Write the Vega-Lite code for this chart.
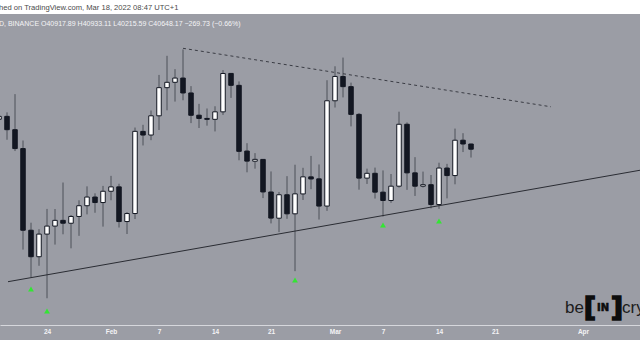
{
  "$schema": "https://vega.github.io/schema/vega-lite/v6.json",
  "width": 640,
  "height": 326,
  "autosize": {"type": "none"},
  "padding": {"top": 14, "bottom": 20, "left": 0, "right": 0},
  "background": "#ffffff",
  "title": {
    "text": "hed on TradingView.com, Mar 18, 2022 08:47 UTC+1",
    "subtitle": "D, BINANCE  O40917.89  H40933.11  L40215.59  C40648.17  −269.73 (−0.66%)",
    "anchor": "start",
    "frame": "group",
    "orient": "top",
    "offset": -13,
    "dx": -1,
    "font": "Liberation Sans",
    "fontSize": 7.6,
    "fontWeight": "normal",
    "color": "#4a4a4a",
    "subtitleFont": "Liberation Sans",
    "subtitleFontSize": 7,
    "subtitleColor": "#f4f4f6",
    "subtitlePadding": 8.5
  },
  "datasets": {
    "candles": [
      {"date": "2022-01-18", "open": 42201.13, "high": 42691.00, "low": 41250.00, "close": 42352.12},
      {"date": "2022-01-19", "open": 42352.12, "high": 42559.13, "low": 41138.56, "close": 41660.01},
      {"date": "2022-01-20", "open": 41660.00, "high": 43505.00, "low": 40553.31, "close": 40680.91},
      {"date": "2022-01-21", "open": 40680.92, "high": 41100.00, "low": 35440.45, "close": 36445.31},
      {"date": "2022-01-22", "open": 36445.31, "high": 36835.22, "low": 34008.00, "close": 35071.42},
      {"date": "2022-01-23", "open": 35071.42, "high": 36499.00, "low": 34601.01, "close": 36244.55},
      {"date": "2022-01-24", "open": 36244.55, "high": 37550.00, "low": 32917.17, "close": 36660.35},
      {"date": "2022-01-25", "open": 36660.35, "high": 37545.14, "low": 35701.00, "close": 36958.32},
      {"date": "2022-01-26", "open": 36958.32, "high": 38919.98, "low": 36234.63, "close": 36809.34},
      {"date": "2022-01-27", "open": 36807.24, "high": 37234.47, "low": 35507.01, "close": 37160.10},
      {"date": "2022-01-28", "open": 37160.11, "high": 38000.00, "low": 36155.01, "close": 37716.56},
      {"date": "2022-01-29", "open": 37716.57, "high": 38720.74, "low": 37268.44, "close": 38166.84},
      {"date": "2022-01-30", "open": 38166.83, "high": 38359.26, "low": 37351.63, "close": 37881.76},
      {"date": "2022-01-31", "open": 37881.75, "high": 38744.00, "low": 36632.61, "close": 38466.90},
      {"date": "2022-02-01", "open": 38466.90, "high": 39265.20, "low": 38000.00, "close": 38694.59},
      {"date": "2022-02-02", "open": 38694.59, "high": 38855.92, "low": 36586.95, "close": 36896.36},
      {"date": "2022-02-03", "open": 36896.37, "high": 37387.00, "low": 36250.00, "close": 37311.61},
      {"date": "2022-02-04", "open": 37311.98, "high": 41772.33, "low": 37026.73, "close": 41574.25},
      {"date": "2022-02-05", "open": 41571.70, "high": 41913.69, "low": 40843.01, "close": 41382.59},
      {"date": "2022-02-06", "open": 41382.60, "high": 42656.00, "low": 41116.56, "close": 42380.87},
      {"date": "2022-02-07", "open": 42380.87, "high": 44500.50, "low": 41645.85, "close": 43839.99},
      {"date": "2022-02-08", "open": 43839.99, "high": 45492.00, "low": 42666.00, "close": 44118.44},
      {"date": "2022-02-09", "open": 44118.45, "high": 44799.00, "low": 43117.92, "close": 44338.80},
      {"date": "2022-02-10", "open": 44338.79, "high": 45821.00, "low": 43187.20, "close": 43565.11},
      {"date": "2022-02-11", "open": 43565.10, "high": 43920.00, "low": 42002.00, "close": 42407.87},
      {"date": "2022-02-12", "open": 42412.24, "high": 43000.00, "low": 41748.42, "close": 42244.47},
      {"date": "2022-02-13", "open": 42244.46, "high": 42760.00, "low": 41870.00, "close": 42197.52},
      {"date": "2022-02-14", "open": 42197.51, "high": 42876.15, "low": 41570.00, "close": 42586.64},
      {"date": "2022-02-15", "open": 42586.63, "high": 44751.40, "low": 42427.03, "close": 44575.20},
      {"date": "2022-02-16", "open": 44578.28, "high": 44583.39, "low": 43310.00, "close": 43961.85},
      {"date": "2022-02-17", "open": 43960.00, "high": 44164.71, "low": 40073.21, "close": 40538.01},
      {"date": "2022-02-18", "open": 40552.13, "high": 40959.88, "low": 39450.00, "close": 40030.24},
      {"date": "2022-02-19", "open": 40026.02, "high": 40444.32, "low": 39639.03, "close": 40122.16},
      {"date": "2022-02-20", "open": 40118.88, "high": 40119.90, "low": 38112.81, "close": 38431.37},
      {"date": "2022-02-21", "open": 38429.00, "high": 39494.35, "low": 36800.00, "close": 37075.28},
      {"date": "2022-02-22", "open": 37068.77, "high": 38430.00, "low": 36350.00, "close": 38286.01},
      {"date": "2022-02-23", "open": 38285.28, "high": 39249.93, "low": 37036.79, "close": 37296.57},
      {"date": "2022-02-24", "open": 37296.56, "high": 39843.00, "low": 34322.28, "close": 38332.61},
      {"date": "2022-02-25", "open": 38328.68, "high": 39683.53, "low": 38014.37, "close": 39214.22},
      {"date": "2022-02-26", "open": 39213.08, "high": 40300.00, "low": 38574.43, "close": 39105.15},
      {"date": "2022-02-27", "open": 39110.63, "high": 39855.70, "low": 37000.00, "close": 37699.07},
      {"date": "2022-02-28", "open": 37699.08, "high": 44225.84, "low": 37450.17, "close": 43160.00},
      {"date": "2022-03-01", "open": 43160.00, "high": 44949.00, "low": 42809.98, "close": 44421.20},
      {"date": "2022-03-02", "open": 44421.20, "high": 45400.00, "low": 43334.09, "close": 43892.98},
      {"date": "2022-03-03", "open": 43892.99, "high": 44101.12, "low": 41832.28, "close": 42454.00},
      {"date": "2022-03-04", "open": 42454.00, "high": 42527.30, "low": 38550.00, "close": 39148.66},
      {"date": "2022-03-05", "open": 39148.65, "high": 39639.61, "low": 38846.51, "close": 39397.96},
      {"date": "2022-03-06", "open": 39397.97, "high": 39693.87, "low": 38088.57, "close": 38420.81},
      {"date": "2022-03-07", "open": 38420.80, "high": 39547.57, "low": 37155.00, "close": 37988.00},
      {"date": "2022-03-08", "open": 37988.01, "high": 39362.08, "low": 37867.65, "close": 38730.63},
      {"date": "2022-03-09", "open": 38730.63, "high": 42594.06, "low": 38656.45, "close": 41941.71},
      {"date": "2022-03-10", "open": 41941.70, "high": 42039.63, "low": 38539.73, "close": 39422.00},
      {"date": "2022-03-11", "open": 39422.01, "high": 40236.26, "low": 38223.60, "close": 38729.57},
      {"date": "2022-03-12", "open": 38729.57, "high": 39486.71, "low": 38660.52, "close": 38807.36},
      {"date": "2022-03-13", "open": 38807.35, "high": 39310.00, "low": 37578.51, "close": 37777.34},
      {"date": "2022-03-14", "open": 37777.35, "high": 39947.12, "low": 37555.00, "close": 39671.37},
      {"date": "2022-03-15", "open": 39671.37, "high": 39887.61, "low": 38098.33, "close": 39280.33},
      {"date": "2022-03-16", "open": 39280.33, "high": 41718.00, "low": 38828.48, "close": 41114.00},
      {"date": "2022-03-17", "open": 41114.01, "high": 41478.82, "low": 40500.00, "close": 40917.90},
      {"date": "2022-03-18", "open": 40917.89, "high": 40933.11, "low": 40215.59, "close": 40648.17}
    ],
    "support": [
      {"date": "2022-01-19T03:00:00Z", "price": 33776},
      {"date": "2022-04-10T00:00:00Z", "price": 39694}
    ],
    "resistance": [
      {"date": "2022-02-10T00:00:00Z", "price": 45882},
      {"date": "2022-03-28T00:00:00Z", "price": 42848}
    ],
    "arrows": [
      {"date": "2022-01-22", "price": 33397},
      {"date": "2022-01-24", "price": 32256},
      {"date": "2022-02-24", "price": 33864},
      {"date": "2022-03-07", "price": 36717},
      {"date": "2022-03-14", "price": 36924}
    ],
    "logo": [{"brand": "beincrypto"}]
  },
  "layer": [
    {
      "data": {"name": "candles"},
      "mark": {"type": "rule", "color": "#4d5059", "strokeWidth": 1},
      "encoding": {
        "x": {
          "field": "date",
          "type": "temporal",
          "scale": {"type": "utc", "domain": [1642474800000, 1649386800000], "padding": 0},
          "axis": {
            "values": [1642982400000, 1643673600000, 1644192000000, 1644796800000, 1645401600000, 1646092800000, 1646611200000, 1647216000000, 1647820800000, 1648771200000],
            "labelExpr": "utcdate(datum.value) == 1 ? utcFormat(datum.value, '%b') : utcFormat(datum.value, '%-d')",
            "title": null,
            "grid": false,
            "ticks": false,
            "domainColor": "#d6d7dc",
            "domainWidth": 1,
            "labelColor": "#f4f4f6",
            "labelFont": "Liberation Sans",
            "labelFontSize": 6.5,
            "labelFontWeight": "bold",
            "labelPadding": 3,
            "labelOverlap": false,
            "labelFlush": false,
            "offset": -15
          }
        },
        "y": {
          "field": "low",
          "type": "quantitative",
          "scale": {"domain": [30752, 47661], "nice": false, "zero": false},
          "axis": null
        },
        "y2": {"field": "high"}
      }
    },
    {
      "data": {"name": "candles"},
      "mark": {"type": "bar", "orient": "vertical", "size": 4.5, "stroke": "#131722", "strokeWidth": 1},
      "encoding": {
        "x": {"field": "date", "type": "temporal"},
        "y": {"field": "open", "type": "quantitative"},
        "y2": {"field": "close"},
        "fill": {
          "condition": {"test": "datum.close >= datum.open", "value": "#ffffff"},
          "value": "#131722"
        }
      }
    },
    {
      "data": {"name": "support"},
      "mark": {"type": "line", "color": "#2a2c33", "strokeWidth": 1, "clip": true},
      "encoding": {
        "x": {"field": "date", "type": "temporal"},
        "y": {"field": "price", "type": "quantitative"}
      }
    },
    {
      "data": {"name": "resistance"},
      "mark": {"type": "line", "color": "#3a3c44", "strokeWidth": 1, "strokeDash": [3, 3], "clip": true},
      "encoding": {
        "x": {"field": "date", "type": "temporal"},
        "y": {"field": "price", "type": "quantitative"}
      }
    },
    {
      "data": {"name": "arrows"},
      "mark": {"type": "point", "shape": "triangle-up", "filled": true, "size": 34, "color": "#33e633", "opacity": 1},
      "encoding": {
        "x": {"field": "date", "type": "temporal"},
        "y": {"field": "price", "type": "quantitative"}
      }
    },
    {
      "data": {"name": "logo"},
      "mark": {"type": "text", "text": "be", "align": "right", "baseline": "alphabetic", "font": "Liberation Sans", "fontSize": 17, "color": "#1c1c1c"},
      "encoding": {
        "x": {"datum": 1648782000000, "type": "temporal"},
        "y": {"datum": 32152, "type": "quantitative"}
      }
    },
    {
      "data": {"name": "logo"},
      "mark": {"type": "text", "text": "[", "align": "center", "baseline": "middle", "font": "DejaVu Sans", "fontSize": 27, "fontWeight": "bold", "color": "#0d0d0d", "stroke": "#0d0d0d", "strokeWidth": 1.6},
      "encoding": {
        "x": {"datum": 1648846800000, "type": "temporal"},
        "y": {"datum": 32412, "type": "quantitative"}
      }
    },
    {
      "data": {"name": "logo"},
      "mark": {"type": "text", "text": "IN", "align": "center", "baseline": "middle", "font": "DejaVu Sans", "fontSize": 10, "fontWeight": "bold", "color": "#0d0d0d", "stroke": "#0d0d0d", "strokeWidth": 0.6},
      "encoding": {
        "x": {"datum": 1648987200000, "type": "temporal"},
        "y": {"datum": 32412, "type": "quantitative"}
      }
    },
    {
      "data": {"name": "logo"},
      "mark": {"type": "text", "text": "]", "align": "center", "baseline": "middle", "font": "DejaVu Sans", "fontSize": 27, "fontWeight": "bold", "color": "#0d0d0d", "stroke": "#0d0d0d", "strokeWidth": 1.6},
      "encoding": {
        "x": {"datum": 1649138400000, "type": "temporal"},
        "y": {"datum": 32412, "type": "quantitative"}
      }
    },
    {
      "data": {"name": "logo"},
      "mark": {"type": "text", "text": "cry", "align": "left", "baseline": "alphabetic", "font": "Liberation Sans", "fontSize": 17, "color": "#1c1c1c"},
      "encoding": {
        "x": {"datum": 1649192400000, "type": "temporal"},
        "y": {"datum": 32152, "type": "quantitative"}
      }
    }
  ],
  "config": {
    "view": {"fill": "#9b9da5", "stroke": null}
  }
}
